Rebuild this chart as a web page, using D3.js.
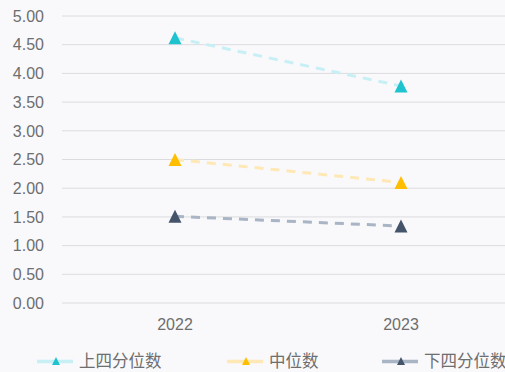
<!DOCTYPE html>
<html><head><meta charset="utf-8">
<script src="https://cdn.jsdelivr.net/npm/d3@7"></script>
<style>html,body{margin:0;padding:0;background:#f9f9fc;}svg{display:block;}</style>
</head><body>
<svg id="c" width="505" height="372"></svg>
<script>
const categories = ["2022", "2023"];
const seriesNames = ["上四分位数", "中位数", "下四分位数"];
const upperQuartile = [4.62, 3.78];
const median = [2.50, 2.10];
const lowerQuartile = [1.51, 1.34];
const yTicks = [0, 0.5, 1, 1.5, 2, 2.5, 3, 3.5, 4, 4.5, 5];

const series = [
  {name: seriesNames[0], values: upperQuartile, line: "#c8f0f4", marker: "#1fc3cf"},
  {name: seriesNames[1], values: median, line: "#fde8b6", marker: "#ffbf00"},
  {name: seriesNames[2], values: lowerQuartile, line: "#a9b4c4", marker: "#44546a"}
];

const svg = d3.select("#c");
const numFont = "'Liberation Sans', Arial, sans-serif";
const cjkFont = "'Noto Sans CJK SC', sans-serif";
const x = d3.scaleBand().domain(categories).range([62, 514]);
const y = d3.scaleLinear().domain([0, 5]).range([303, 16]);

// grid
svg.append("g").selectAll("line").data(yTicks).join("line")
  .attr("x1", 62).attr("x2", 505)
  .attr("y1", d => y(d)).attr("y2", d => y(d))
  .attr("stroke", "#dcdcdf").attr("stroke-width", 1);

// y labels
svg.append("g").selectAll("text").data(yTicks).join("text")
  .attr("x", 44).attr("y", d => y(d)).attr("dy", "0.36em")
  .attr("text-anchor", "end").attr("font-family", numFont).attr("font-size", 16)
  .attr("fill", "#6e6e6e").text(d => d.toFixed(2));

// x labels
svg.append("g").selectAll("text").data(categories).join("text")
  .attr("x", d => x(d) + x.bandwidth() / 2).attr("y", 329.5)
  .attr("text-anchor", "middle").attr("font-family", numFont).attr("font-size", 16)
  .attr("fill", "#6e6e6e").text(d => d);

const cx = d => x(d) + x.bandwidth() / 2;
// isoceles triangle centred on its bounding box
const triPath = s => `M0,${-s/2}L${s/2},${s/2}L${-s/2},${s/2}Z`;
const line = d3.line().x((v, i) => cx(categories[i])).y(v => y(v));

series.forEach(s => {
  svg.append("path").attr("d", line(s.values)).attr("fill", "none")
    .attr("stroke", s.line).attr("stroke-width", 3).attr("stroke-dasharray", "9,7");
  svg.append("g").selectAll("path").data(s.values).join("path")
    .attr("d", triPath(13))
    .attr("transform", (v, i) => `translate(${cx(categories[i])},${y(v)})`)
    .attr("fill", s.marker);
});

// legend
const legendX = [37, 227, 382];
const lg = svg.append("g");
series.forEach((s, i) => {
  const g = lg.append("g").attr("transform", `translate(${legendX[i]},361.5)`);
  g.append("line").attr("x1", 0).attr("x2", 36).attr("y1", 0).attr("y2", 0)
    .attr("stroke", s.line).attr("stroke-width", 3.5);
  g.append("path").attr("d", triPath(8))
    .attr("transform", "translate(19,-0.5)").attr("fill", s.marker);
  g.append("text").attr("x", 42).attr("y", 0).attr("dy", "0.36em")
    .attr("font-family", cjkFont).attr("font-size", 16.5).attr("fill", "#6e6e6e").text(s.name);
});
</script>
</body></html>
